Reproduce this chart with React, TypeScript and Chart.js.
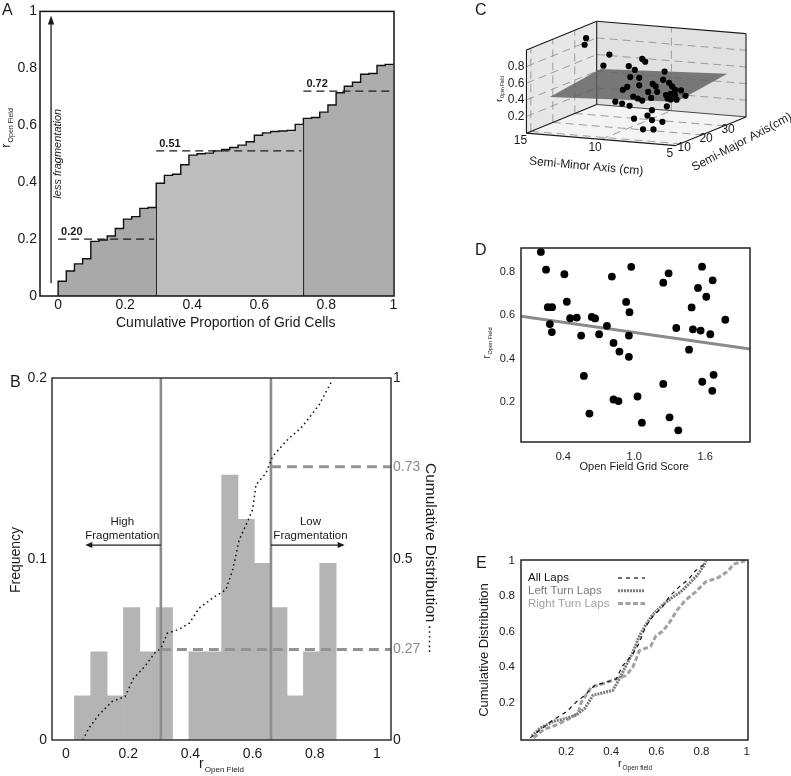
import { useEffect, useRef } from 'react';
import { Chart, registerables } from 'chart.js';
Chart.register(...registerables);

const FONT = "'Liberation Sans', Arial, Helvetica, sans-serif";
Chart.defaults.font.family = FONT;
Chart.defaults.color = '#1a1a1a';

// ---------------- Panel A : ranked r(open field) of grid cells ----------------
const aSortedR = [0.052, 0.088, 0.113, 0.131, 0.192, 0.197, 0.211, 0.237, 0.270, 0.279, 0.308, 0.311,
  0.396, 0.424, 0.428, 0.461, 0.495, 0.500, 0.502, 0.510, 0.515, 0.522, 0.530, 0.542, 0.565, 0.573, 0.578, 0.580, 0.582, 0.603,
  0.624, 0.627, 0.646, 0.671, 0.714, 0.737, 0.751, 0.779, 0.782, 0.810, 0.814];
const aGroupStart = [0, 12, 30];
const aGroupMedian = [0.20, 0.51, 0.72];
const aGroupFill = ['#a9a9a9', '#bdbdbd', '#adadad'];
const aXTicks = [0, 0.2, 0.4, 0.6, 0.8, 1];
const aXTickLabels = ['0', '0.2', '0.4', '0.6', '0.8', '1'];
const aYTicks = [0, 0.2, 0.4, 0.6, 0.8, 1];
const aYTickLabels = ['0', '0.2', '0.4', '0.6', '0.8', '1'];

// ---------------- Panel B : histogram + cumulative distribution ----------------
const bBinCenters = [0.0533, 0.1059, 0.1585, 0.2111, 0.2637, 0.3163, 0.3689, 0.4215, 0.4741, 0.5267, 0.5793, 0.6319, 0.6845, 0.7371, 0.7897, 0.8423];
const bBinCounts = [1, 2, 1, 3, 2, 3, 0, 2, 2, 6, 5, 4, 3, 1, 2, 4];
const bTotalCells = 41;
const bCumX = [0.054, 0.073, 0.105, 0.148, 0.19, 0.217, 0.253, 0.285, 0.305, 0.326, 0.364, 0.397, 0.428, 0.471, 0.514, 0.536, 0.557, 0.584, 0.6, 0.611, 0.643, 0.664, 0.707, 0.76, 0.814, 0.857];
const bCumY = [0, 0.032, 0.069, 0.106, 0.12, 0.17, 0.203, 0.24, 0.253, 0.295, 0.306, 0.323, 0.364, 0.392, 0.415, 0.47, 0.553, 0.604, 0.636, 0.705, 0.737, 0.783, 0.825, 0.866, 0.926, 0.995];
const bThresholds = [0.305, 0.659];
const bCumMarks = [0.25, 0.755];
const bXTicks = [0, 0.2, 0.4, 0.6, 0.8, 1];
const bXTickLabels = ['0', '0.2', '0.4', '0.6', '0.8', '1'];
const bLeftTicks = [0, 0.1, 0.2];
const bLeftTickLabels = ['0', '0.1', '0.2'];
const bRightTicks = [0, 0.25, 0.5, 0.755, 1];
const bRightTickLabels = ['0', '0.27', '0.5', '0.73', '1'];
const bRightTickColors = ['#1a1a1a', '#8a8a8a', '#1a1a1a', '#8a8a8a', '#1a1a1a'];

// ---------------- Panel C : 3D scatter (semi-minor, semi-major, r) ----------------
const cMinor = [14.3, 14.4, 11.8, 12.2, 9.6, 9.4, 10.5, 10.1, 8.1, 10.4, 9.8, 8.2, 10.6, 9.8, 8.9, 8.7, 7.8, 7.6, 10.9, 9.2, 8.6, 7.4, 7.0, 7.7, 8.0, 7.4, 6.7, 10.2, 9.9, 9.0, 7.9, 9.6, 7.7, 7.3, 11.4, 9.3, 8.8, 6.3, 7.3, 7.6, 8.5, 7.3, 6.6, 7.9, 7.2];
const cMajor = [30.4, 30.4, 24, 24, 24, 24, 24, 24, 24, 24, 24, 24, 24, 24, 24, 24, 24, 24, 24, 24, 24, 24, 24, 24, 24, 24, 24, 24, 24, 24, 24, 24, 24, 24, 24, 12.8, 12.8, 12.8, 12.8, 12.8, 12.8, 12.8, 12.8, 12.8, 12.8];
const cR = [0.91, 0.83, 0.82, 0.68, 0.80, 0.77, 0.70, 0.66, 0.67, 0.57, 0.57, 0.57, 0.45, 0.48, 0.51, 0.485, 0.54, 0.50, 0.41, 0.41, 0.42, 0.46, 0.46, 0.41, 0.39, 0.40, 0.40, 0.34, 0.32, 0.34, 0.35, 0.30, 0.34, 0.345, 0.26, 0.39, 0.37, 0.40, 0.34, 0.27, 0.22, 0.22, 0.21, 0.10, 0.11];
const cMinorRange = [15, 5];
const cMajorRange = [8, 40];
const cRRange = [0, 1];
const cMinorTicks = [15, 10, 5];
const cMajorTicks = [10, 20, 30];
const cRTicks = [0.2, 0.4, 0.6, 0.8];
const cRTickLabels = ['0.2', '0.4', '0.6', '0.8'];
const cPlaneIntercept = 0.481;
const cPlaneMinorCoef = -0.0082;
const cPlaneMajorCoef = 0.0037;
const cPlaneMinorSpan = [14, 5.5];
const cPlaneMajorSpan = [11.8, 34.9];

// ---------------- Panel D : grid score vs r ----------------
const dGridScore = [0.21, 0.254, 0.409, 0.269, 0.305, 0.43, 0.286, 0.303, 0.458, 0.514, 0.551, 0.574, 0.621, 0.641, 0.669, 0.703, 0.769, 0.811, 0.825, 0.825, 0.867, 0.875, 0.932, 0.96, 0.975, 0.955, 0.955, 1.028, 1.065, 1.246, 1.291, 1.246, 1.299, 1.356, 1.373, 1.464, 1.486, 1.497, 1.54, 1.574, 1.562, 1.576, 1.61, 1.644, 1.664, 1.672, 1.661, 1.771];
const dR = [0.892, 0.81, 0.789, 0.637, 0.637, 0.662, 0.559, 0.522, 0.586, 0.589, 0.506, 0.32, 0.146, 0.592, 0.585, 0.512, 0.551, 0.778, 0.472, 0.211, 0.204, 0.432, 0.661, 0.614, 0.823, 0.506, 0.408, 0.225, 0.104, 0.75, 0.793, 0.283, 0.129, 0.541, 0.069, 0.441, 0.636, 0.535, 0.726, 0.824, 0.529, 0.293, 0.685, 0.512, 0.761, 0.325, 0.251, 0.579];
const dFitIntercept = 0.598;
const dFitSlope = -0.078;
const dXTicks = [0.4, 1.0, 1.6];
const dXTickLabels = ['0.4', '1.0', '1.6'];
const dYTicks = [0.2, 0.4, 0.6, 0.8];
const dYTickLabels = ['0.2', '0.4', '0.6', '0.8'];

// ---------------- Panel E : cumulative distributions by lap direction ----------------
const eAllX = [0.041, 0.085, 0.143, 0.202, 0.246, 0.283, 0.326, 0.378, 0.422, 0.45, 0.495, 0.524, 0.553, 0.583, 0.627, 0.656, 0.7, 0.744, 0.773, 0.81, 0.817];
const eAllY = [0, 0.046, 0.102, 0.148, 0.204, 0.241, 0.296, 0.315, 0.333, 0.407, 0.472, 0.537, 0.63, 0.685, 0.74, 0.796, 0.852, 0.898, 0.944, 0.98, 1.0];
const eLeftX = [0.048, 0.085, 0.143, 0.202, 0.246, 0.283, 0.319, 0.348, 0.407, 0.436, 0.465, 0.495, 0.524, 0.553, 0.583, 0.627, 0.663, 0.707, 0.744, 0.78, 0.81, 0.82];
const eLeftY = [0.01, 0.056, 0.093, 0.111, 0.13, 0.167, 0.241, 0.25, 0.269, 0.333, 0.407, 0.481, 0.574, 0.639, 0.694, 0.75, 0.787, 0.824, 0.87, 0.917, 0.972, 1.0];
const eRightX = [0.056, 0.1, 0.158, 0.217, 0.253, 0.268, 0.312, 0.363, 0.422, 0.465, 0.495, 0.524, 0.575, 0.597, 0.627, 0.656, 0.692, 0.729, 0.773, 0.817, 0.876, 0.919, 0.941, 0.993];
const eRightY = [0, 0.046, 0.074, 0.111, 0.139, 0.204, 0.287, 0.306, 0.333, 0.352, 0.398, 0.491, 0.519, 0.574, 0.602, 0.648, 0.722, 0.778, 0.824, 0.88, 0.907, 0.944, 0.981, 1.0];
const eSeriesNames = ['All Laps', 'Left Turn Laps', 'Right Turn Laps'];
const eXTicks = [0.2, 0.4, 0.6, 0.8, 1];
const eXTickLabels = ['0.2', '0.4', '0.6', '0.8', '1'];
const eYTicks = [0.2, 0.4, 0.6, 0.8, 1];
const eYTickLabels = ['0.2', '0.4', '0.6', '0.8', '1'];

// ---------------- helpers ----------------
const fnt = (size: number, style = '', weight = '') => `${style} ${weight} ${size}px ${FONT}`.trim();

function text(ctx: any, s: string, x: number, y: number, o: any = {}) {
  ctx.save();
  ctx.translate(x, y);
  if (o.rot) ctx.rotate(o.rot);
  ctx.font = fnt(o.size || 12, o.style || '', o.weight || '');
  ctx.fillStyle = o.color || '#1a1a1a';
  ctx.textAlign = o.align || 'center';
  ctx.textBaseline = o.baseline || 'alphabetic';
  ctx.fillText(s, 0, 0);
  ctx.restore();
}

function rSub(ctx: any, x: number, y: number, rot: number, main: number, sub: number, subText: string) {
  ctx.save();
  ctx.translate(x, y);
  ctx.rotate(rot);
  ctx.fillStyle = '#1a1a1a';
  ctx.textAlign = 'left';
  ctx.textBaseline = 'alphabetic';
  ctx.font = fnt(main);
  const w1 = ctx.measureText('r').width;
  ctx.font = fnt(sub);
  const w2 = ctx.measureText(subText).width;
  const gap = main * 0.08;
  const start = -(w1 + gap + w2) / 2;
  ctx.font = fnt(main);
  ctx.fillText('r', start, 0);
  ctx.font = fnt(sub);
  ctx.fillText(subText, start + w1 + gap, sub * 0.45);
  ctx.restore();
}

function arrow(ctx: any, x0: number, y0: number, x1: number, y1: number, head = 7, half = 3.2, color = '#1a1a1a', lw = 1.2) {
  const ang = Math.atan2(y1 - y0, x1 - x0);
  ctx.save();
  ctx.strokeStyle = color;
  ctx.fillStyle = color;
  ctx.lineWidth = lw;
  ctx.beginPath();
  ctx.moveTo(x0, y0);
  ctx.lineTo(x1 - Math.cos(ang) * head * 0.8, y1 - Math.sin(ang) * head * 0.8);
  ctx.stroke();
  ctx.beginPath();
  ctx.moveTo(x1, y1);
  ctx.lineTo(x1 - Math.cos(ang) * head - Math.sin(ang) * half, y1 - Math.sin(ang) * head + Math.cos(ang) * half);
  ctx.lineTo(x1 - Math.cos(ang) * head + Math.sin(ang) * half, y1 - Math.sin(ang) * head - Math.cos(ang) * half);
  ctx.closePath();
  ctx.fill();
  ctx.restore();
}

const frame = (color: string, width: number) => ({
  id: 'frame',
  afterDatasetsDraw(chart: any) {
    const { left, top, right, bottom } = chart.chartArea;
    const ctx = chart.ctx;
    ctx.save();
    ctx.strokeStyle = color;
    ctx.lineWidth = width;
    ctx.strokeRect(left, top, right - left, bottom - top);
    ctx.restore();
  },
});

function axis(o: any) {
  const vertical = o.position === 'left' || o.position === 'right';
  return {
    type: 'linear',
    position: o.position,
    min: o.min,
    max: o.max,
    offset: false,
    grid: { display: false, drawTicks: false },
    border: { display: false },
    afterBuildTicks: (s: any) => { s.ticks = o.ticks.map((value: number) => ({ value })); },
    afterFit: (s: any) => { if (vertical) s.width = o.size; else s.height = o.size; },
    ticks: {
      callback: (_v: any, i: number) => o.labels[i],
      font: { size: o.fontSize, family: FONT },
      color: o.colors ? (c: any) => o.colors[c.index] : (o.color || '#1a1a1a'),
      padding: o.padding,
      maxRotation: 0,
      autoSkip: false,
      align: 'center',
    },
  };
}

const baseOptions = (padding: any) => ({
  responsive: false,
  animation: false,
  devicePixelRatio: 1,
  events: [],
  layout: { padding },
  plugins: { legend: { display: false }, tooltip: { enabled: false } },
});

// ---------------- Panel A ----------------
function makeA(): any {
  const n = aSortedR.length;
  const cumX = Array.from({ length: n + 1 }, (_, i) => i / n);
  const ends = [...aGroupStart.slice(1), n];
  const datasets: any[] = [];
  aGroupStart.forEach((s, k) => {
    const e = ends[k];
    const pts: any[] = [{ x: cumX[s], y: 0 }];
    for (let i = s; i < e; i++) pts.push({ x: cumX[i], y: aSortedR[i] });
    pts.push({ x: cumX[e], y: aSortedR[e - 1] });
    datasets.push({ type: 'line', data: pts, stepped: true, fill: 'origin', backgroundColor: aGroupFill[k], borderColor: '#111', borderWidth: 1.4, pointRadius: 0, order: 3 });
    datasets.push({ type: 'line', data: [{ x: cumX[s], y: aGroupMedian[k] }, { x: cumX[e] - 0.006, y: aGroupMedian[k] }], borderColor: '#1a1a1a', borderWidth: 1.4, borderDash: [8, 5], pointRadius: 0, fill: false, order: 1 });
  });
  const deco = {
    id: 'decoA',
    afterDraw(chart: any) {
      const ctx = chart.ctx;
      const sx = chart.scales.x, sy = chart.scales.y;
      aGroupStart.forEach((s, k) => {
        const x = sx.getPixelForValue(cumX[s]) + 3;
        const y = sy.getPixelForValue(aGroupMedian[k]) - 4;
        text(ctx, aGroupMedian[k].toFixed(2), x, y, { size: 11, weight: 'bold', align: 'left' });
      });
      const ax = sx.getPixelForValue(-0.021);
      arrow(ctx, ax, sy.getPixelForValue(0.045), ax, sy.getPixelForValue(0.986), 9, 3.2, '#1a1a1a', 1.3);
      text(ctx, 'less fragmentation', ax + 7, sy.getPixelForValue(0.5), { size: 11, style: 'italic', rot: -Math.PI / 2, baseline: 'middle' });
      rSub(ctx, 9.5, 128, -Math.PI / 2, 13, 7, 'Open Field');
      const { left, right } = chart.chartArea;
      text(ctx, 'Cumulative Proportion of Grid Cells', (sx.getPixelForValue(0) + sx.getPixelForValue(1)) / 2, 327, { size: 14 });
      text(ctx, 'A', 2, 15, { size: 16, align: 'left' });
      void left; void right;
    },
  };
  return {
    type: 'line',
    data: { datasets },
    options: {
      ...baseOptions({ top: 8, right: 6, left: 0, bottom: 0 }),
      scales: {
        x: axis({ position: 'bottom', min: -0.054, max: 1.002, ticks: aXTicks, labels: aXTickLabels, size: 44, fontSize: 14, padding: 1 }),
        y: axis({ position: 'left', min: 0, max: 1, ticks: aYTicks, labels: aYTickLabels, size: 40, fontSize: 14, padding: 3 }),
      },
    },
    plugins: [frame('#111', 1.5), deco],
  };
}

// ---------------- Panel B ----------------
const bXMin = -0.045, bXMax = 1.045;
function makeB(): any {
  const freq = bBinCounts.map((c) => c / bTotalCells);
  const datasets: any[] = [
    { type: 'bar', data: bBinCenters.map((x, i) => ({ x, y: freq[i] })), backgroundColor: '#b4b4b4', borderWidth: 0, barPercentage: 1, categoryPercentage: 1, grouped: false, order: 5, yAxisID: 'y' },
    { type: 'line', data: bCumX.map((x, i) => ({ x, y: bCumY[i] })), yAxisID: 'y2', borderColor: '#111', borderWidth: 1.5, borderDash: [1.6, 3.2], pointRadius: 0, fill: false, order: 1 },
    ...bThresholds.map((t) => ({ type: 'line', data: [{ x: t, y: 0 }, { x: t, y: 0.2 }], yAxisID: 'y', borderColor: '#8c8c8c', borderWidth: 2.6, pointRadius: 0, fill: false, order: 2 })),
    ...bThresholds.map((t, k) => ({ type: 'line', data: [{ x: t, y: bCumMarks[k] }, { x: bXMax, y: bCumMarks[k] }], yAxisID: 'y2', borderColor: '#939393', borderWidth: 3, borderDash: [10, 6], pointRadius: 0, fill: false, order: 2 })),
  ];
  const deco = {
    id: 'decoB',
    afterDraw(chart: any) {
      const ctx = chart.ctx;
      const sx = chart.scales.x, sy = chart.scales.y;
      const ay = sy.getPixelForValue(0.1077);
      const notes = [
        { lines: ['High', 'Fragmentation'], cx: 0.181, from: bThresholds[0], to: 0.062 },
        { lines: ['Low', 'Fragmentation'], cx: 0.786, from: bThresholds[1], to: 0.896 },
      ];
      notes.forEach((nt) => {
        const cx = sx.getPixelForValue(nt.cx);
        text(ctx, nt.lines[0], cx, ay - 20, { size: 11.5 });
        text(ctx, nt.lines[1], cx, ay - 6, { size: 11.5 });
        arrow(ctx, sx.getPixelForValue(nt.from), ay, sx.getPixelForValue(nt.to), ay, 7, 3, '#1a1a1a', 1.2);
      });
      text(ctx, 'Frequency', 20, 560 - 340, { size: 14, rot: -Math.PI / 2 });
      rSub(ctx, (sx.getPixelForValue(0) + sx.getPixelForValue(1)) / 2, 768 - 340, 0, 14, 8, 'Open Field');
      // right axis title with its line style sample
      ctx.save();
      ctx.translate(425.5, 463 - 340);
      ctx.rotate(Math.PI / 2);
      ctx.font = fnt(15.5);
      ctx.fillStyle = '#1a1a1a';
      ctx.textAlign = 'left';
      ctx.textBaseline = 'alphabetic';
      ctx.fillText('Cumulative Distribution', 0, 0);
      const w = ctx.measureText('Cumulative Distribution').width;
      ctx.strokeStyle = '#111';
      ctx.lineWidth = 1.5;
      ctx.setLineDash([1.6, 3.2]);
      ctx.beginPath();
      ctx.moveTo(w + 4, -4);
      ctx.lineTo(w + 32, -4);
      ctx.stroke();
      ctx.restore();
      text(ctx, 'B', 10, 47, { size: 16, align: 'left' });
    },
  };
  return {
    type: 'bar',
    data: { datasets },
    options: {
      ...baseOptions({ top: 38, right: 0, left: 0, bottom: 0 }),
      scales: {
        x: axis({ position: 'bottom', min: bXMin, max: bXMax, ticks: bXTicks, labels: bXTickLabels, size: 36, fontSize: 14, padding: 6 }),
        y: axis({ position: 'left', min: 0, max: 0.2, ticks: bLeftTicks, labels: bLeftTickLabels, size: 52, fontSize: 14, padding: 5 }),
        y2: { ...axis({ position: 'right', min: 0, max: 1, ticks: bRightTicks, labels: bRightTickLabels, colors: bRightTickColors, size: 54, fontSize: 14, padding: 2 }) },
      },
    },
    plugins: [frame('#333', 1.5), deco],
  };
}

// ---------------- Panel C ----------------
// oblique projection of the 3D box into the panel's view space
const C_VIEW = { w: 331, h: 185 };
const C_O = { x: 64, y: 50 };
const C_EX = { x: 153, y: -13 };
const C_EY = { x: 72, y: 30 };
const C_EZ = { x: 0, y: 87 };
function cProject(minor: number, major: number, r: number) {
  const u = (minor - cMinorRange[0]) / (cMinorRange[1] - cMinorRange[0]);
  const v = (major - cMajorRange[0]) / (cMajorRange[1] - cMajorRange[0]);
  const w = (r - cRRange[0]) / (cRRange[1] - cRRange[0]);
  return { x: C_O.x + C_EX.x * u + C_EY.x * v + C_EZ.x * w, y: C_O.y + C_EX.y * u + C_EY.y * v + C_EZ.y * w };
}
function makeC(): any {
  const pts = cMinor.map((m, i) => cProject(m, cMajor[i], cR[i]));
  const deco = {
    id: 'decoC',
    beforeDatasetsDraw(chart: any) {
      const ctx = chart.ctx;
      const sx = chart.scales.x, sy = chart.scales.y;
      const P = (mi: number, ma: number, r: number) => {
        const p = cProject(mi, ma, r);
        return { x: sx.getPixelForValue(p.x), y: sy.getPixelForValue(p.y) };
      };
      const [m0, m1] = cMinorRange, [M0, M1] = cMajorRange, [r0, r1] = cRRange;
      const poly = (ps: any[], fill: string) => {
        ctx.beginPath();
        ps.forEach((p, i) => (i ? ctx.lineTo(p.x, p.y) : ctx.moveTo(p.x, p.y)));
        ctx.closePath();
        ctx.fillStyle = fill;
        ctx.fill();
      };
      const seg = (a: any, b: any) => { ctx.beginPath(); ctx.moveTo(a.x, a.y); ctx.lineTo(b.x, b.y); ctx.stroke(); };
      ctx.save();
      poly([P(m0, M0, r0), P(m0, M0, r1), P(m0, M1, r1), P(m0, M1, r0)], '#e7e7e7');
      poly([P(m0, M1, r0), P(m0, M1, r1), P(m1, M1, r1), P(m1, M1, r0)], '#e1e1e1');
      poly([P(m0, M0, r0), P(m1, M0, r0), P(m1, M1, r0), P(m0, M1, r0)], '#f4f4f4');
      ctx.strokeStyle = '#9c9c9c';
      ctx.lineWidth = 1;
      ctx.setLineDash([8, 5]);
      cRTicks.forEach((r) => { seg(P(m0, M0, r), P(m0, M1, r)); seg(P(m0, M1, r), P(m1, M1, r)); });
      cMajorTicks.forEach((M) => { seg(P(m0, M, r0), P(m0, M, r1)); seg(P(m0, M, r0), P(m1, M, r0)); });
      cMinorTicks.filter((m) => m !== m0 && m !== m1).forEach((m) => { seg(P(m, M1, r0), P(m, M1, r1)); seg(P(m, M0, r0), P(m, M1, r0)); });
      ctx.setLineDash([]);
      ctx.strokeStyle = '#1a1a1a';
      ctx.lineWidth = 1.1;
      seg(P(m0, M0, r0), P(m0, M0, r1));
      seg(P(m0, M0, r1), P(m0, M1, r1));
      seg(P(m0, M1, r0), P(m0, M1, r1));
      seg(P(m0, M1, r1), P(m1, M1, r1));
      seg(P(m1, M1, r0), P(m1, M1, r1));
      seg(P(m0, M0, r0), P(m1, M0, r0));
      seg(P(m1, M0, r0), P(m1, M1, r0));
      seg(P(m0, M0, r0), P(m0, M1, r0));
      ctx.lineWidth = 0.8;
      seg(P(m0, M1, r0), P(m1, M1, r0));
      // fitted regression plane
      const planeR = (mi: number, ma: number) => cPlaneIntercept + cPlaneMinorCoef * mi + cPlaneMajorCoef * ma;
      const [pm0, pm1] = cPlaneMinorSpan, [pM0, pM1] = cPlaneMajorSpan;
      poly([P(pm0, pM0, planeR(pm0, pM0)), P(pm0, pM1, planeR(pm0, pM1)), P(pm1, pM1, planeR(pm1, pM1)), P(pm1, pM0, planeR(pm1, pM0))], 'rgba(95,95,95,0.82)');
      // tick labels
      cRTicks.forEach((r, i) => {
        const p = P(m0, M0, r);
        text(ctx, cRTickLabels[i], p.x - 2, p.y, { size: 12, align: 'right', baseline: 'middle' });
      });
      cMinorTicks.forEach((m) => {
        const p = P(m, M0, r0);
        text(ctx, String(m), p.x - 6, p.y + 8, { size: 12, baseline: 'middle' });
      });
      cMajorTicks.forEach((M) => {
        const p = P(m1, M, r0);
        text(ctx, String(M), p.x + 4, p.y + 4, { size: 12, baseline: 'middle' });
      });
      const pm = P(10, M0, r0);
      text(ctx, 'Semi-Minor Axis (cm)', pm.x - 15, pm.y + 27, { size: 12, baseline: 'middle', rot: 0.09 });
      const pM = P(m1, 24, r0);
      text(ctx, 'Semi-Major Axis(cm)', pM.x + 31, pM.y + 11, { size: 12, baseline: 'middle', rot: -0.49 });
      rSub(ctx, 502 - 460, 89, -Math.PI / 2, 9, 4.5, 'Open Field');
      text(ctx, 'C', 15, 15, { size: 16, align: 'left' });
      ctx.restore();
    },
  };
  return {
    type: 'scatter',
    data: { datasets: [{ data: pts, backgroundColor: '#000', pointRadius: 3.1, pointBorderWidth: 0, clip: false }] },
    options: {
      ...baseOptions(0),
      scales: {
        x: { type: 'linear', display: false, min: 0, max: C_VIEW.w },
        y: { type: 'linear', display: false, min: 0, max: C_VIEW.h },
      },
    },
    plugins: [deco],
  };
}

// ---------------- Panel D ----------------
const dXMin = 0.042, dXMax = 1.98;
function makeD(): any {
  const deco = {
    id: 'decoD',
    afterDraw(chart: any) {
      const ctx = chart.ctx;
      const sx = chart.scales.x;
      text(ctx, 'Open Field Grid Score', sx.getPixelForValue(1.0), 467 - 185, { size: 11, baseline: 'middle' });
      rSub(ctx, 490 - 460, 343 - 185, -Math.PI / 2, 10, 5.5, 'Open Field');
      text(ctx, 'D', 15, 70, { size: 16, align: 'left' });
    },
  };
  return {
    type: 'scatter',
    data: {
      datasets: [
        { type: 'line', data: [{ x: dXMin, y: dFitIntercept + dFitSlope * dXMin }, { x: dXMax, y: dFitIntercept + dFitSlope * dXMax }], borderColor: '#8a8a8a', borderWidth: 3, pointRadius: 0, fill: false, order: 2 },
        { data: dGridScore.map((x, i) => ({ x, y: dR[i] })), backgroundColor: '#000', pointRadius: 3.9, pointBorderWidth: 0, order: 1, clip: false },
      ],
    },
    options: {
      ...baseOptions({ top: 63, right: 41, left: 0, bottom: 0 }),
      scales: {
        x: axis({ position: 'bottom', min: dXMin, max: dXMax, ticks: dXTicks, labels: dXTickLabels, size: 33, fontSize: 11, padding: 8, color: '#222' }),
        y: axis({ position: 'left', min: 0.015, max: 0.91, ticks: dYTicks, labels: dYTickLabels, size: 61, fontSize: 11, padding: 6, color: '#222' }),
      },
    },
    plugins: [frame('#222', 1.5), deco],
  };
}

// ---------------- Panel E ----------------
const eStyles = [
  { color: '#111', width: 1.2, dash: [4, 4] },
  { color: '#7b7b7b', width: 3, dash: [2, 1] },
  { color: '#a2a2a2', width: 3, dash: [5, 2.5] },
];
const eTextColors = ['#111', '#7b7b7b', '#a2a2a2'];
function makeE(): any {
  const series = [[eAllX, eAllY], [eLeftX, eLeftY], [eRightX, eRightY]];
  const datasets = series.map(([xs, ys], k) => ({
    type: 'line',
    data: xs.map((x, i) => ({ x, y: ys[i] })),
    borderColor: eStyles[k].color,
    borderWidth: eStyles[k].width,
    borderDash: eStyles[k].dash,
    pointRadius: 0,
    fill: false,
    order: 3 - k === 3 ? 1 : 3 - k + 1,
  }));
  datasets[0].order = 1; datasets[1].order = 2; datasets[2].order = 3;
  const deco = {
    id: 'decoE',
    afterDraw(chart: any) {
      const ctx = chart.ctx;
      const { left, top } = chart.chartArea;
      eSeriesNames.forEach((nm, k) => {
        const y = top + 18 + k * 12.8;
        text(ctx, nm, left + 7, y, { size: 11.5, align: 'left', baseline: 'middle', color: eTextColors[k] });
        ctx.save();
        ctx.strokeStyle = eStyles[k].color;
        ctx.lineWidth = eStyles[k].width;
        ctx.setLineDash(eStyles[k].dash);
        ctx.beginPath();
        ctx.moveTo(left + 97, y);
        ctx.lineTo(left + 124, y);
        ctx.stroke();
        ctx.restore();
      });
      text(ctx, 'Cumulative Distribution', 488 - 460, 650 - 478, { size: 13, rot: -Math.PI / 2, baseline: 'alphabetic' });
      rSub(ctx, 635 - 460, 767 - 478, 0, 11, 6.5, 'Open field');
      text(ctx, 'E', 16, 90, { size: 16, align: 'left' });
    },
  };
  return {
    type: 'line',
    data: { datasets },
    options: {
      ...baseOptions({ top: 82, right: 43, left: 0, bottom: 0 }),
      scales: {
        x: axis({ position: 'bottom', min: 0, max: 1.006, ticks: eXTicks, labels: eXTickLabels, size: 36, fontSize: 11.5, padding: 5, color: '#222' }),
        y: axis({ position: 'left', min: -0.012, max: 1.005, ticks: eYTicks, labels: eYTickLabels, size: 61, fontSize: 11.5, padding: 6, color: '#222' }),
      },
    },
    plugins: [frame('#222', 1.5), deco],
  };
}

function ChartBox({ x, y, w, h, build }: any) {
  const ref = useRef<HTMLCanvasElement | null>(null);
  useEffect(() => {
    const chart = new Chart(ref.current as HTMLCanvasElement, build());
    return () => chart.destroy();
  }, []);
  return <canvas ref={ref} width={w} height={h} style={{ position: 'absolute', left: x, top: y, width: w, height: h, display: 'block' }} />;
}

export default function App() {
  return (
    <div style={{ position: 'fixed', left: 0, top: 0, width: 791, height: 776, background: '#fff', overflow: 'hidden' }}>
      <ChartBox x={0} y={0} w={400} h={340} build={makeA} />
      <ChartBox x={0} y={340} w={445} h={436} build={makeB} />
      <ChartBox x={460} y={0} w={331} h={185} build={makeC} />
      <ChartBox x={460} y={185} w={331} h={290} build={makeD} />
      <ChartBox x={460} y={478} w={331} h={298} build={makeE} />
    </div>
  );
}
